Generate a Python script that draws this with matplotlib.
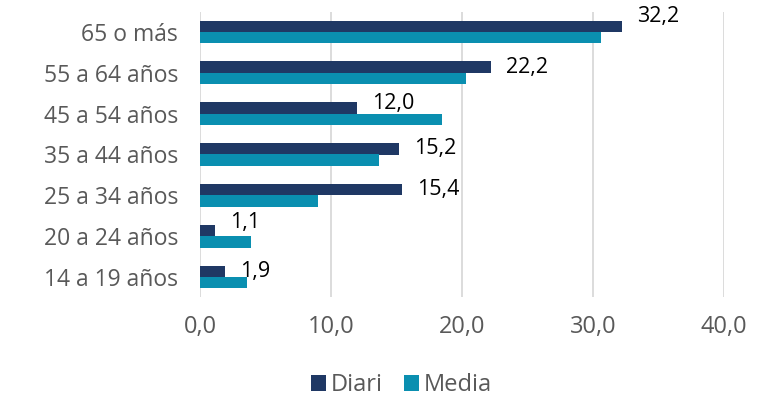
import matplotlib
matplotlib.use("Agg")
import matplotlib.pyplot as plt
import numpy as np

# data
categorias = ["65 o más", "55 a 64 años", "45 a 54 años", "35 a 44 años",
              "25 a 34 años", "20 a 24 años", "14 a 19 años"]
diari = [32.2, 22.2, 12.0, 15.2, 15.4, 1.1, 1.9]
media = [30.6, 20.3, 18.5, 13.7, 9.0, 3.9, 3.6]
xticks = [0, 10, 20, 30, 40]

plt.rcParams['font.family'] = ['Open Sans', 'DejaVu Sans']

fig = plt.figure(figsize=(7.79, 4.0), dpi=100)
ax = fig.add_axes([0.257, 0.2565, 0.672, 0.7145])

y = np.arange(len(categorias))
h = 0.28
ax.barh(y - h / 2, diari, height=h, color="#1F3864", label="Diari", zorder=3)
ax.barh(y + h / 2, media, height=h, color="#0A8FB0", label="Media", zorder=3)

# value labels for Diari (a few nudged up like the original)
dy = {0: 7, 2: 3, 5: 6}
for i, v in enumerate(diari):
    ax.annotate(f"{v:.1f}".replace(".", ","), xy=(v, y[i] - h / 2),
                xytext=(11, dy.get(i, 0)), textcoords="offset points",
                va="center", ha="left", fontsize=15.5, color="black",
                annotation_clip=False)

ax.set_ylim(len(categorias) - 0.5, -0.5)
ax.set_xlim(0, 40)
ax.set_yticks(y)
ax.set_yticklabels(categorias, fontsize=16.5, color="#595959")
ax.set_xticks(xticks)
ax.set_xticklabels([f"{t:.1f}".replace(".", ",") for t in xticks],
                   fontsize=17, color="#595959")
ax.tick_params(length=0)
ax.tick_params(axis="y", pad=16)
ax.tick_params(axis="x", pad=13)

ax.grid(axis="x", color="#D9D9D9", linewidth=1.3, zorder=0)
for s in ax.spines.values():
    s.set_visible(False)

fig.legend(loc="center", bbox_to_anchor=(0.515, 0.0375), ncol=2, frameon=False,
           fontsize=17, labelcolor="#595959", handlelength=0.64, handleheight=0.64,
           handletextpad=0.2, columnspacing=0.9)

fig.savefig("out.png", dpi=100)
